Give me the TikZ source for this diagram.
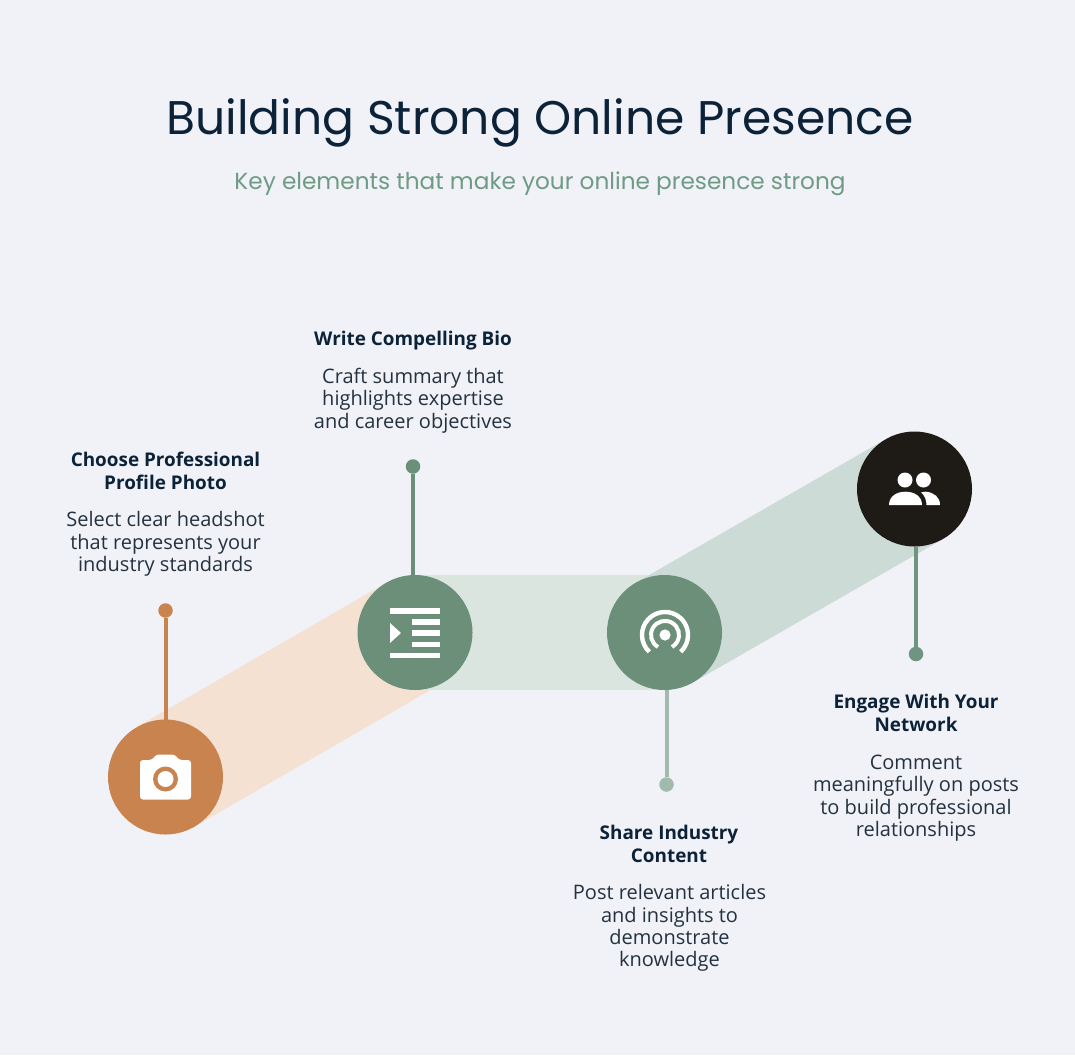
\documentclass[tikz,border=0pt]{standalone}
\usepackage{fontspec}
\setmainfont{Open Sans}
\newfontfamily\titlefont{Poppins}
\definecolor{bgc}{HTML}{F0F2F7}
\definecolor{ink}{HTML}{0C2238}
\definecolor{bodyc}{HTML}{24323F}
\definecolor{subc}{HTML}{6F9B84}
\definecolor{orangec}{HTML}{C8834F}
\definecolor{sagec}{HTML}{6B8F78}
\definecolor{palesage}{HTML}{A0BBAB}
\definecolor{stemfour}{HTML}{6F9480}
\definecolor{darkc}{HTML}{1E1B16}
\definecolor{peach}{HTML}{F4E1D2}
\definecolor{bandflat}{HTML}{DAE5E0}
\definecolor{bandrise}{HTML}{CDDBD6}
\tikzset{
  x=1pt,y=-1pt,
  bubble/.style={circle,minimum size=115pt,inner sep=0pt,outer sep=0pt,fill=#1},
  pin/.style={circle,minimum size=14.5pt,inner sep=0pt,outer sep=0pt,fill=#1},
  stem/.style={line width=4pt,draw=#1},
  head/.style={align=center,inner sep=0pt,text=ink,font=\fontsize{18.9}{22.4}\selectfont\bfseries},
  copy/.style={align=center,inner sep=0pt,text=bodyc,font=\fontsize{20}{22.4}\selectfont},
  icon/.style={fill=white,draw=none},
  iconarc/.style={draw=white,line width=4pt,fill=none}
}
\begin{document}
\begin{tikzpicture}
\useasboundingbox[fill=bgc] (0,0) rectangle (1075,1055);
% bands
\fill[peach] (136.7,727) -- (386.2,582.7) -- (443.8,682.3) -- (194.3,826.8) -- cycle;
\fill[bandflat] (415,575) rectangle (664.5,690);
\fill[bandrise] (635.7,582.7) -- (885.7,439.2) -- (943.3,538.8) -- (693.3,682.3) -- cycle;
% pins
\node[pin=orangec] (pinA) at (165.5,610.5) {};
\node[pin=sagec] (pinB) at (413,466.5) {};
\node[pin=palesage] (pinC) at (666.5,784.5) {};
\node[pin=stemfour] (pinD) at (916,654) {};
% bubbles
\node[bubble=orangec] (photo) at (165.5,777) {};
\node[bubble=sagec] (bio) at (415,632.5) {};
\node[bubble=sagec] (share) at (664.5,632.5) {};
\node[bubble=darkc] (net) at (914.5,489) {};
% stems
\draw[stem=orangec] (pinA) -- (pinA |- photo.north);
\draw[stem=sagec] (pinB) -- (pinB |- bio.north);
\draw[stem=palesage] (pinC) -- (pinC |- share.south);
\draw[stem=stemfour] (pinD) -- (pinD |- net.south);
% camera
\fill[icon,rounded corners=3pt] (140,760) -- (152,760) -- (156,754.5) -- (175,754.5) -- (179,760) -- (191,760) -- (191,799.5) -- (140,799.5) -- cycle;
\fill[orangec] (165.5,779) circle[radius=12.5pt];
\fill[white] (165.5,779) circle[radius=8pt];
% indent list
\fill[icon] (390,608) rectangle (440,613.5);
\fill[icon] (412,619) rectangle (440,624.5);
\fill[icon] (412,630) rectangle (440,636);
\fill[icon] (412,641.5) rectangle (440,647);
\fill[icon] (390,653) rectangle (440,658);
\fill[icon] (390,623) -- (401,633) -- (390,643) -- cycle;
% broadcast
\fill[white] (665,635) circle[radius=5.6pt];
\draw[iconarc,line width=4.4pt] (649.3,651.8) arc[start angle=227,end angle=-47,radius=23pt];
\draw[iconarc,line width=4pt] (658,647) arc[start angle=240,end angle=-60,radius=14pt];
% people
\fill[white] (905,480) circle[radius=7.5pt];
\fill[white] (923.5,480) circle[radius=7.5pt];
\fill[icon] (889,505) .. controls (889,496) and (897,491.7) .. (905.5,491.7) .. controls (914,491.7) and (922,496) .. (922,505) -- cycle;
\fill[icon] (926,491.7) .. controls (934,492.5) and (940,497) .. (940,505) -- (926.5,505) .. controls (926.5,500) and (924.5,495) .. (921,492.5) .. controls (922.5,492) and (924,491.7) .. (926,491.7) -- cycle;
% titles
\node[inner sep=0pt,text=ink,font=\titlefont\fontsize{47.2}{50}\selectfont] (title) at (540,123) {Building Strong Online Presence};
\node[inner sep=0pt,text=subc,font=\titlefont\fontsize{23.2}{28}\selectfont] (subtitle) at (540,184) {Key elements that make your online presence strong};
% labels
\node[head] (hA) at (165.5,471) {Choose Professional\\Profile Photo};
\node[copy] (tA) at (165.5,544) {Select clear headshot\\that represents your\\industry standards};
\node[head] (hB) at (413,341) {Write Compelling Bio};
\node[copy] (tB) at (413,400.5) {Craft summary that\\highlights expertise\\and career objectives};
\node[head] (hC) at (669,844) {Share Industry\\Content};
\node[copy] (tC) at (669.5,928) {Post relevant articles\\and insights to\\demonstrate\\knowledge};
\node[head] (hD) at (916,713) {Engage With Your\\Network};
\node[copy] (tD) at (916,798) {Comment\\meaningfully on posts\\to build professional\\relationships};
\end{tikzpicture}
\end{document}
